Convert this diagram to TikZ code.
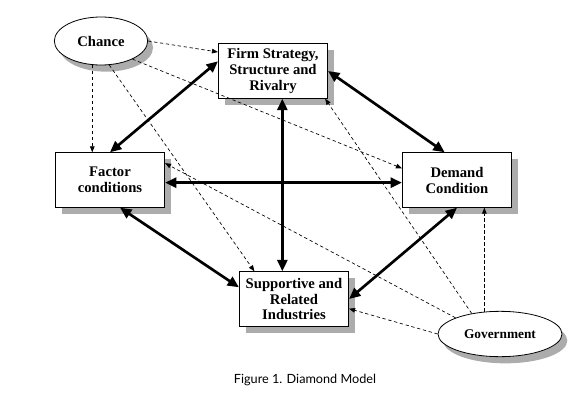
\documentclass[tikz,border=0pt]{standalone}
\usepackage{fontspec}
\setmainfont{Liberation Serif}
\newfontfamily\capfont{Lato}
\usepackage{tikz}
\usetikzlibrary{arrows.meta,positioning,shapes.geometric,shadows}
\tikzset{
  box/.style={rectangle,draw,line width=0.6pt,fill=white,minimum width=82pt,minimum height=41pt,inner sep=1pt,align=center,font=\fontsize{11}{12}\selectfont\bfseries,drop shadow={shadow xshift=5pt,shadow yshift=-5pt,fill=gray!65,opacity=1}},
  oval/.style={ellipse,draw,line width=0.6pt,fill=white,inner sep=0pt,font=\fontsize{11}{12}\selectfont\bfseries,drop shadow={shadow xshift=4pt,shadow yshift=-5pt,fill=gray!65,opacity=1}},
  link/.style={line width=2pt,{Triangle[length=8.5pt,width=7.5pt]}-{Triangle[length=8.5pt,width=7.5pt]}},
  infl/.style={line width=0.5pt,dash pattern=on 2.5pt off 2pt,-{Triangle[length=4.5pt,width=3.5pt]}},
}
\begin{document}
\begin{tikzpicture}[x=0.75pt,y=-0.75pt]
  \useasboundingbox (0,0) rectangle (575,403);
  \node[oval,minimum width=70pt,minimum height=36pt] (chance) at (101,41){Chance};
  \node[box] (firm) at (273,71){Firm Strategy,\\Structure and\\Rivalry};
  \node[box] (fac) at (110,180){Factor\\conditions};
  \node[box] (dem) at (457,180){Demand\\Condition};
  \node[box] (sup) at (294,299){Supportive and\\Related\\Industries};
  \node[oval,minimum width=93pt,minimum height=34pt,font=\fontsize{10}{12}\selectfont\bfseries] (gov) at (500,334){Government};
  \node[font=\capfont\fontsize{9.5}{11}\selectfont] (cap) at (305,380){Figure 1. Diamond Model};
  \draw[link] (fac.north) -- (firm.170);
  \draw[link] (firm.east) -- (dem.114);
  \draw[link] ([yshift=-2pt]fac.east) -- ([yshift=-2pt]fac.east -| dem.west);
  \draw[link] ([xshift=7pt]firm.south) -- ([xshift=7pt]firm.south |- sup.north);
  \draw[link] (fac.-70) -- (sup.168);
  \draw[link] (dem.south) -- (sup.east);
  \draw[infl] (chance.east) -- (firm.161);
  \draw[infl] (chance.250) -- (chance.250 |- fac.north);
  \draw[infl] (chance.-30) -- (dem.168);
  \draw[infl] (chance.-71) -- (sup.145);
  \draw[infl] (gov.west) -- (sup.-10);
  \draw[infl] (gov.125) -- (gov.125 |- dem.south);
  \draw[infl] (gov.144) -- (firm.-28);
  \draw[infl] (gov.160) -- (fac.17);
\end{tikzpicture}
\end{document}
